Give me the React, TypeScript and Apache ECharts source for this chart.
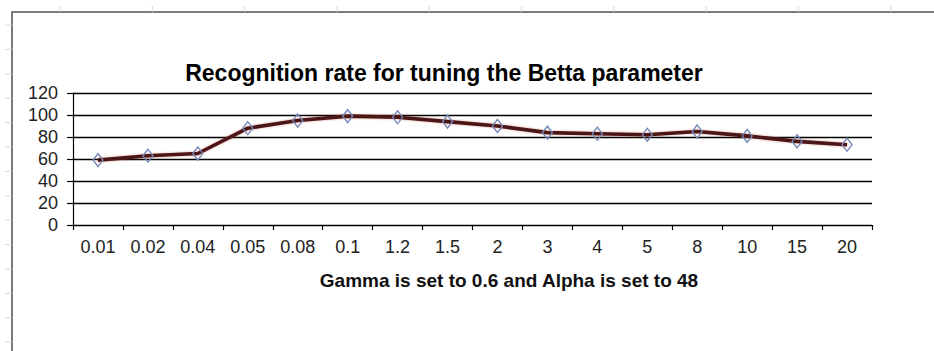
import React, { useEffect, useRef } from "react";
import * as echarts from "echarts";

const betaValues = ["0.01", "0.02", "0.04", "0.05", "0.08", "0.1", "1.2", "1.5", "2", "3", "4", "5", "8", "10", "15", "20"];
const recognitionRate = [59, 63, 65, 88, 95, 99, 98, 94, 90, 84, 83, 82, 85, 81, 76, 73];
const yTicks = { min: 0, max: 120, interval: 20 };

const chartTitle = "Recognition rate for tuning the Betta parameter";
const xAxisTitle = "Gamma is set to 0.6 and Alpha is set to 48";

const FONT = "'Liberation Sans', Arial, sans-serif";

function sheetDecorations() {
  const items: any[] = [];
  // worksheet frame
  items.push({
    type: "polyline",
    shape: { points: [[12, 351], [12, 12], [934, 12]] },
    style: { stroke: "#505050", lineWidth: 1.5, fill: "none" },
    silent: true,
  });
  // faint column marks along the top
  for (let x = 60; x < 934; x += 92.3) {
    items.push({
      type: "line",
      shape: { x1: x, y1: 6, x2: x, y2: 12 },
      style: { stroke: "#d8d8d8", lineWidth: 1 },
      silent: true,
    });
  }
  // faint row marks along the left edge
  for (let y = 25; y < 351; y += 24.4) {
    items.push({
      type: "line",
      shape: { x1: 5, y1: y, x2: 12, y2: y },
      style: { stroke: "#d8d8d8", lineWidth: 1 },
      silent: true,
    });
  }
  items.push({
    type: "text",
    x: 444,
    y: 73,
    style: {
      text: chartTitle,
      font: `bold 23px ${FONT}`,
      fill: "#000",
      textAlign: "center",
      textVerticalAlign: "middle",
    },
  });
  items.push({
    type: "text",
    x: 509,
    y: 280,
    style: {
      text: xAxisTitle,
      font: `bold 19px ${FONT}`,
      fill: "#111",
      textAlign: "center",
      textVerticalAlign: "middle",
    },
  });
  return items;
}

export default function App() {
  const ref = useRef<HTMLDivElement>(null);

  useEffect(() => {
    if (!ref.current) return;
    const chart = echarts.init(ref.current, null, { renderer: "svg" });
    chart.setOption({
      animation: false,
      backgroundColor: "#fff",
      textStyle: { fontFamily: FONT },
      grid: { left: 73, right: 62, top: 93, bottom: 126, containLabel: false },
      xAxis: {
        type: "category",
        data: betaValues,
        boundaryGap: true,
        axisLine: { show: true, lineStyle: { color: "#000", width: 1.2 } },
        axisTick: { show: true, length: 5, lineStyle: { color: "#000", width: 1.2 } },
        axisLabel: { color: "#222", fontSize: 18, margin: 13, fontFamily: FONT, interval: 0 },
        splitLine: { show: false },
      },
      yAxis: {
        type: "value",
        min: yTicks.min,
        max: yTicks.max,
        interval: yTicks.interval,
        axisLine: { show: true, lineStyle: { color: "#000", width: 1.2 } },
        axisTick: { show: true, length: 6, lineStyle: { color: "#000", width: 1.2 } },
        axisLabel: { color: "#222", fontSize: 18, margin: 15, fontFamily: FONT },
        splitLine: { show: true, lineStyle: { color: "#000", width: 1.4 } },
      },
      series: [
        {
          type: "line",
          data: recognitionRate,
          lineStyle: { color: "#4e1616", width: 3.6, shadowColor: "rgba(170,60,40,0.45)", shadowBlur: 2 },
          symbol: "diamond",
          symbolSize: [10, 13],
          showSymbol: true,
          itemStyle: { color: "rgba(255,255,255,0)", borderColor: "#7686b8", borderWidth: 1.4 },
          z: 3,
        },
      ],
      graphic: sheetDecorations(),
    });
    return () => chart.dispose();
  }, []);

  return (
    <div
      ref={ref}
      style={{ position: "fixed", left: 0, top: 0, width: 934, height: 351, background: "#fff" }}
    />
  );
}
